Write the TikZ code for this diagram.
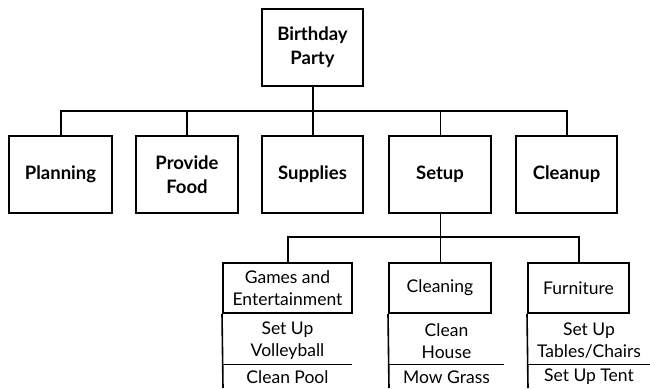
\documentclass[tikz,border=0pt]{standalone}
\usepackage{fontspec}
\setmainfont{Lato}
\begin{document}
\begin{tikzpicture}[x=1pt,y=-1pt,
  box/.style={draw,line width=2pt,inner sep=0pt,align=center,
    font=\bfseries\fontsize{18.5}{24}\selectfont},
  topbox/.style={box,minimum width=101pt,minimum height=77pt},
  subbox/.style={draw,line width=2pt,inner sep=0pt,align=center,minimum height=50pt,
    font=\fontsize{17.5}{22}\selectfont},
  subtext/.style={inner sep=0pt,align=center,font=\fontsize{17.5}{22}\selectfont},
  conn/.style={line width=2pt},
  thinconn/.style={line width=1pt},
  subline/.style={line width=1.6pt}]
\useasboundingbox (0,0) rectangle (650,388);

% level 0
\node[topbox] (bp) at (312.5,47.5) {Birthday\\Party};
% level 1
\node[topbox,minimum width=103pt] (plan) at (60.5,174.5) {Planning};
\node[topbox,minimum width=102pt] (food) at (187,174.5) {Provide\\Food};
\node[topbox] (supp) at (312.5,174.5) {Supplies};
\node[topbox,minimum width=102pt] (setup) at (440,174.5) {Setup};
\node[topbox] (clean) at (566.5,174.5) {Cleanup};

\draw[conn] (bp.south) -- ++(0,24) coordinate (hub);
\draw[conn] (hub) -| (plan.north);
\draw[conn] (hub) -| (food.north);
\draw[conn] (hub) -- (supp.north);
\draw[conn] (hub) -| (clean.north);
\draw[thinconn] (setup.north |- hub) -- (setup.north);

% level 2
\node[subbox,minimum width=129pt] (games) at (287.5,288) {Games and\\Entertainment};
\node[subbox,minimum width=102pt] (cleaning) at (440,288) {Cleaning};
\node[subbox,minimum width=101pt] (furn) at (578.5,288) {Furniture};

\draw[thinconn] (setup.south) -- (cleaning.north);
\coordinate (hub2) at (440,237);
\draw[conn] (games.north) |- (hub2) -| (furn.north);

% sub items
\coordinate (gB) at (223,388);
\coordinate (gR) at (352,364.5);
\coordinate (cB) at (389,388);
\coordinate (cR) at (504,364.5);
\coordinate (fB) at (528,388);
\coordinate (fR) at (650,364.5);

\draw[subline] (games.south west) -- (gB);
\draw[subline] (gB |- gR) -- (gR);
\draw[subline] (cleaning.south west) -- (cB);
\draw[subline] (cB |- cR) -- (cR);
\draw[subline] (furn.south west) -- (fB);
\draw[subline] (fB |- fR) -- (fR);

\node[subtext] (g1) at (287.5,341) {Set Up\\Volleyball};
\node[subtext] (g2) at (287.5,377) {Clean Pool};
\node[subtext] (c1) at (446.5,341) {Clean\\House};
\node[subtext] (c2) at (446.5,377) {Mow Grass};
\node[subtext] (f1) at (589,341) {Set Up\\Tables/Chairs};
\node[subtext] (f2) at (589,377) {Set Up Tent};
\end{tikzpicture}
\end{document}
